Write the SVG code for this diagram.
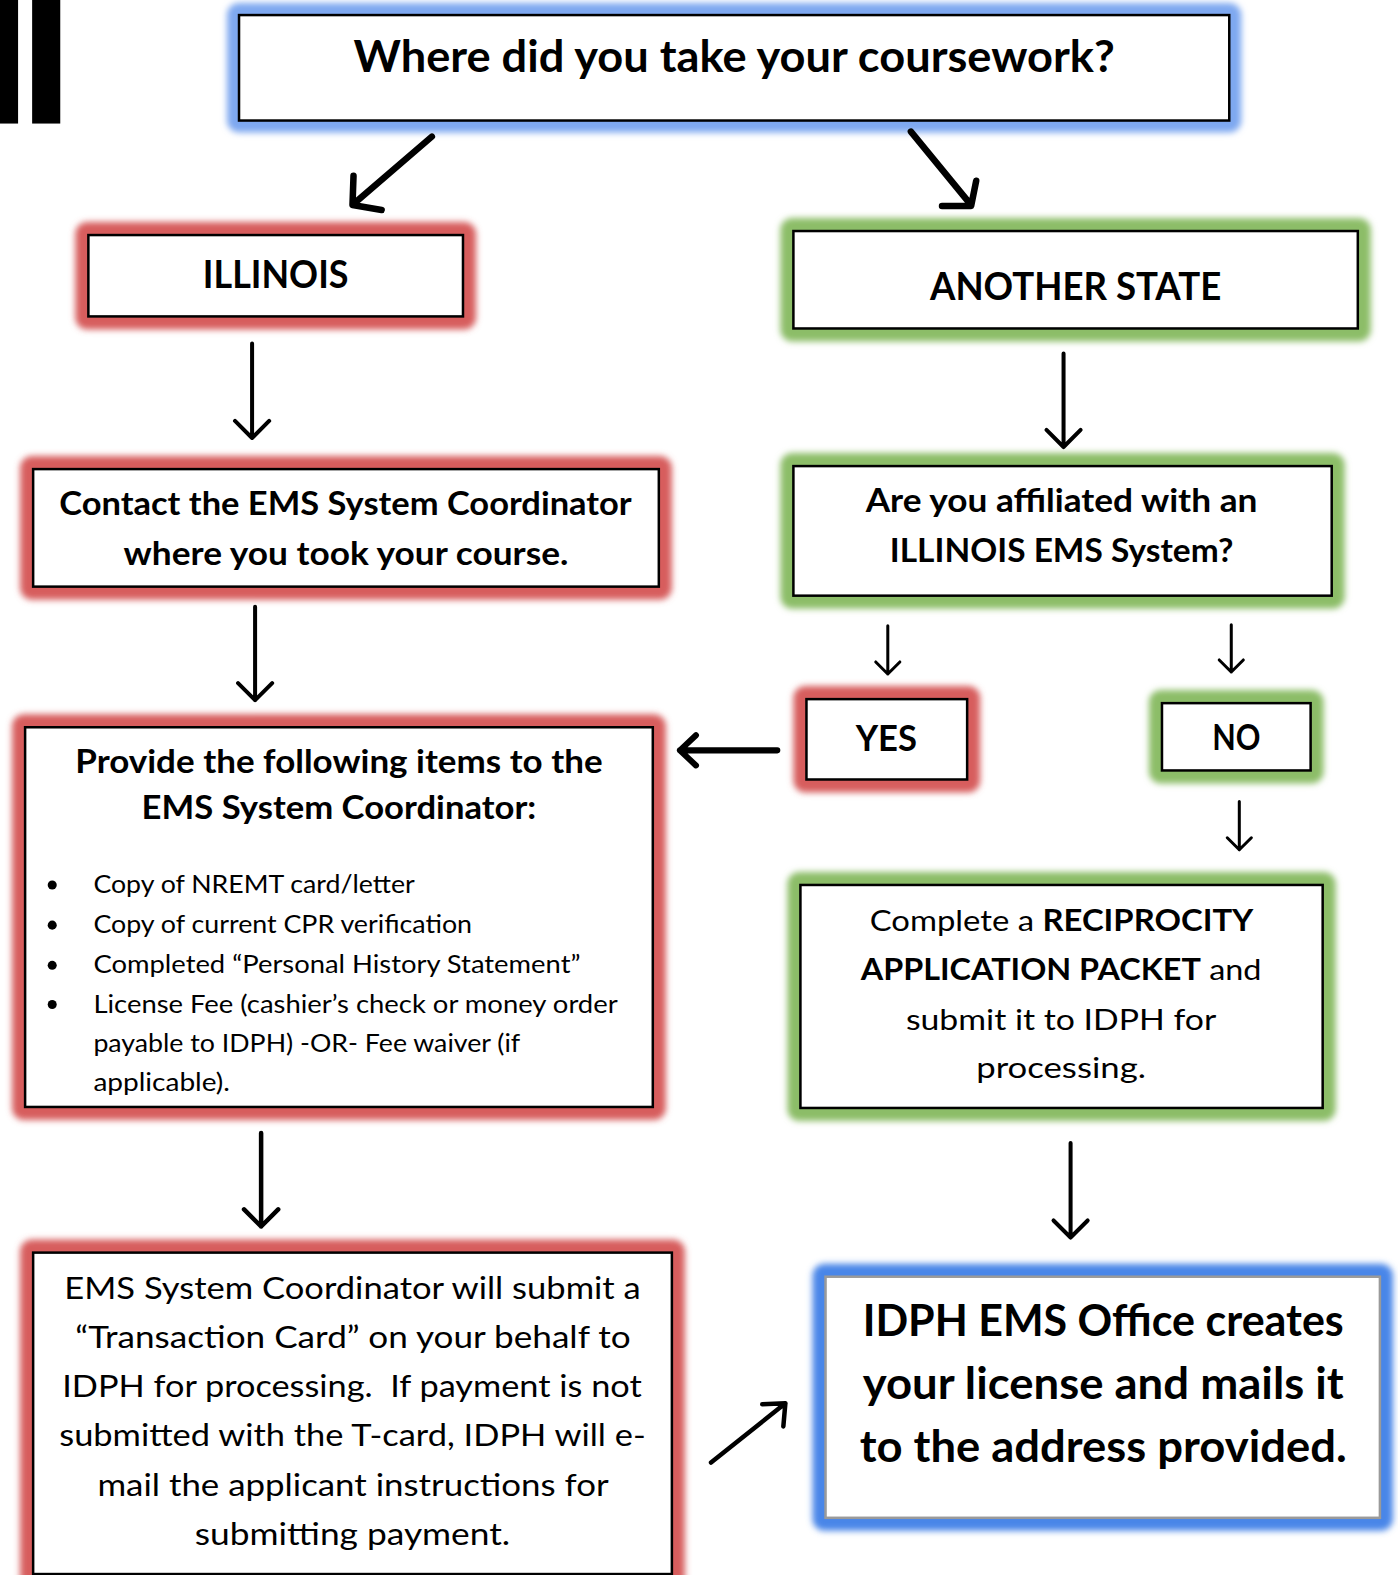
<svg xmlns="http://www.w3.org/2000/svg" width="1398" height="1575" viewBox="0 0 1398 1575">
<defs>
<filter id="blur" x="-20%" y="-20%" width="140%" height="140%"><feGaussianBlur stdDeviation="3"/></filter>
</defs>
<style>
.gr{fill:#d75d5d;filter:url(#blur)}
.gg{fill:#8cbd68;filter:url(#blur)}
.gb{fill:#7ea8f0;filter:url(#blur)}
.gb2{fill:#4a86e8;filter:url(#blur)}
.box{fill:#fff;stroke:#000;stroke-width:2.5}
.box2{fill:#fff;stroke:#9a9a9a;stroke-width:2.5}
text{font-family:Lato,"Liberation Sans",sans-serif;fill:#000}
.b{font-weight:700}
.c{text-anchor:middle}
.a{fill:none;stroke:#000;stroke-linecap:round;stroke-linejoin:round}
</style>
<rect width="1398" height="1575" fill="#fff"/>
<g transform="scale(1.0043,1.0045)">
<g id="bars"><rect x="0" y="0" width="18" height="123" fill="#000"/><rect x="32" y="0" width="28" height="123" fill="#000"/></g>

<g id="n-top">
<rect class="gb" x="226" y="3" width="1010" height="129" rx="12"/>
<rect class="box" x="238" y="15" width="986" height="105"/>
<text class="b c" x="731" y="72" font-size="44" textLength="758" lengthAdjust="spacingAndGlyphs">Where did you take your coursework?</text>
</g>

<g id="n-illinois">
<rect class="gr" x="75" y="221" width="399" height="107" rx="12"/>
<rect class="box" x="88" y="234" width="373" height="81"/>
<text class="b c" x="274.5" y="287" font-size="38.5" textLength="145" lengthAdjust="spacingAndGlyphs">ILLINOIS</text>
</g>

<g id="n-another">
<rect class="gg" x="777" y="217" width="588" height="123" rx="12"/>
<rect class="box" x="790" y="230" width="562" height="97"/>
<text class="b c" x="1071" y="299" font-size="38.5" textLength="290" lengthAdjust="spacingAndGlyphs">ANOTHER STATE</text>
</g>

<g id="n-contact">
<rect class="gr" x="20" y="454" width="649" height="143" rx="12"/>
<rect class="box" x="33" y="467" width="623" height="117"/>
<text class="b c" x="344" y="513" font-size="33" textLength="570" lengthAdjust="spacingAndGlyphs">Contact the EMS System Coordinator</text>
<text class="b c" x="344.5" y="562" font-size="33" textLength="443" lengthAdjust="spacingAndGlyphs">where you took your course.</text>
</g>

<g id="n-affiliated">
<rect class="gg" x="777" y="451" width="562" height="155" rx="12"/>
<rect class="box" x="790" y="464" width="536" height="129"/>
<text class="b c" x="1057" y="510" font-size="33" textLength="390" lengthAdjust="spacingAndGlyphs">Are you affiliated with an</text>
<text class="b c" x="1057" y="559" font-size="33" textLength="342" lengthAdjust="spacingAndGlyphs">ILLINOIS EMS System?</text>
</g>

<g id="n-yes">
<rect class="gr" x="790" y="683" width="186" height="106" rx="12"/>
<rect class="box" x="803" y="696" width="160" height="80"/>
<text class="b c" x="882.5" y="748" font-size="37" textLength="61" lengthAdjust="spacingAndGlyphs">YES</text>
</g>

<g id="n-no">
<rect class="gg" x="1144" y="687" width="174" height="93" rx="12"/>
<rect class="box" x="1157" y="700" width="148" height="67"/>
<text class="b c" x="1231" y="747" font-size="37" textLength="48" lengthAdjust="spacingAndGlyphs">NO</text>
</g>

<g id="n-provide">
<rect class="gr" x="12" y="711" width="651" height="404" rx="12"/>
<rect class="box" x="25" y="724" width="625" height="378"/>
<text class="b c" x="337.5" y="770" font-size="33" textLength="525" lengthAdjust="spacingAndGlyphs">Provide the following items to the</text>
<text class="b c" x="337.5" y="815" font-size="33" textLength="393" lengthAdjust="spacingAndGlyphs">EMS System Coordinator:</text>
<circle cx="52" cy="881" r="4.5"/><circle cx="52" cy="921" r="4.5"/><circle cx="52" cy="961" r="4.5"/><circle cx="52" cy="1000" r="4.5"/>
<text x="93" y="889" font-size="24.5" textLength="320" lengthAdjust="spacingAndGlyphs">Copy of NREMT card/letter</text>
<text x="93" y="929" font-size="24.5" textLength="377" lengthAdjust="spacingAndGlyphs">Copy of current CPR verification</text>
<text x="93" y="969" font-size="24.5" textLength="485" lengthAdjust="spacingAndGlyphs">Completed “Personal History Statement”</text>
<text x="93" y="1008" font-size="24.5" textLength="522" lengthAdjust="spacingAndGlyphs">License Fee (cashier’s check or money order</text>
<text x="93" y="1047" font-size="24.5" textLength="425" lengthAdjust="spacingAndGlyphs">payable to IDPH) -OR- Fee waiver (if</text>
<text x="93" y="1086" font-size="24.5" textLength="136" lengthAdjust="spacingAndGlyphs">applicable).</text>
</g>

<g id="n-reciprocity">
<rect class="gg" x="784" y="868" width="546" height="248" rx="12"/>
<rect class="box" x="797" y="881" width="520" height="222"/>
<text class="c" x="1057" y="927" font-size="29.5" textLength="382" lengthAdjust="spacingAndGlyphs">Complete a <tspan class="b">RECIPROCITY</tspan></text>
<text class="c" x="1056.5" y="976" font-size="29.5" textLength="399" lengthAdjust="spacingAndGlyphs"><tspan class="b">APPLICATION PACKET</tspan> and</text>
<text class="c" x="1056.5" y="1025" font-size="29.5" textLength="309" lengthAdjust="spacingAndGlyphs">submit it to IDPH for</text>
<text class="c" x="1056.5" y="1073" font-size="29.5" textLength="169" lengthAdjust="spacingAndGlyphs">processing.</text>
</g>

<g id="n-transaction">
<rect class="gr" x="20" y="1234" width="662" height="360" rx="12"/>
<rect class="box" x="33" y="1247" width="636" height="320"/>
<text class="c" x="351" y="1293" font-size="30" textLength="574" lengthAdjust="spacingAndGlyphs">EMS System Coordinator will submit a</text>
<text class="c" x="351.5" y="1342" font-size="30" textLength="553" lengthAdjust="spacingAndGlyphs">“Transaction Card” on your behalf to</text>
<text class="c" x="350.5" y="1391" font-size="30" textLength="577" lengthAdjust="spacingAndGlyphs" xml:space="preserve">IDPH for processing.  If payment is not</text>
<text class="c" x="351" y="1440" font-size="30" textLength="584" lengthAdjust="spacingAndGlyphs">submitted with the T-card, IDPH will e-</text>
<text class="c" x="351.5" y="1489" font-size="30" textLength="509" lengthAdjust="spacingAndGlyphs">mail the applicant instructions for</text>
<text class="c" x="351" y="1538" font-size="30" textLength="314" lengthAdjust="spacingAndGlyphs">submitting payment.</text>
</g>

<g id="n-idph">
<rect class="gb2" x="809" y="1258" width="578" height="266" rx="12"/>
<rect class="box2" x="822" y="1271" width="552" height="240"/>
<text class="b c" x="1098.5" y="1330" font-size="44" textLength="479" lengthAdjust="spacingAndGlyphs">IDPH EMS Office creates</text>
<text class="b c" x="1098.5" y="1393" font-size="44" textLength="479" lengthAdjust="spacingAndGlyphs">your license and mails it</text>
<text class="b c" x="1098.5" y="1455" font-size="44" textLength="485" lengthAdjust="spacingAndGlyphs">to the address provided.</text>
</g>

<g id="connectors">
<path class="a" stroke-width="6.5" d="M430,136 L352,203 M352,175 L351,204 L380,209"/>
<path class="a" stroke-width="6.5" d="M907,131 L966,203 M972,180 L967,205 L938,205"/>
<path class="a" stroke-width="4" d="M251,342 L251,436 M234,419 L251,436 L268,419"/>
<path class="a" stroke-width="4" d="M1059,352 L1059,445 M1042,428 L1059,445 L1076,428"/>
<path class="a" stroke-width="4" d="M254,604 L254,697 M237,680 L254,697 L271,680"/>
<path class="a" stroke-width="3" d="M884,623 L884,671 M872,659 L884,671 L896,659"/>
<path class="a" stroke-width="3" d="M1226,622 L1226,669 M1214,657 L1226,669 L1238,657"/>
<path class="a" stroke-width="6" d="M774,747 L677,747 M693,732 L677,747 L693,762"/>
<path class="a" stroke-width="3" d="M1234,798 L1234,846 M1222,834 L1234,846 L1246,834"/>
<path class="a" stroke-width="4.5" d="M260,1128 L260,1221 M243,1204 L260,1221 L277,1204"/>
<path class="a" stroke-width="4" d="M1066,1138 L1066,1232 M1049,1215 L1066,1232 L1083,1215"/>
<path class="a" stroke-width="4.5" d="M708,1456 L782,1397 M759,1398 L782,1397 L780,1420"/>
</g>
</g>
</svg>
